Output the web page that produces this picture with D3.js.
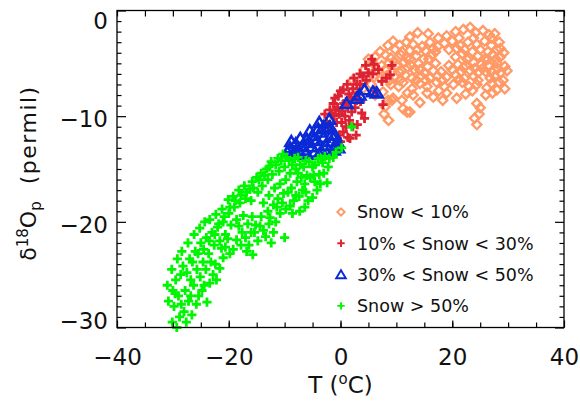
<!DOCTYPE html>
<html>
<head>
<meta charset="utf-8">
<script src="https://cdn.jsdelivr.net/npm/d3@7"></script>
<style>
	body { margin: 0; background: #fff; }
	text { font-family: "DejaVu Sans", "Liberation Sans", sans-serif; }
</style>
</head>
<body>
<script>
	var w = 580;
	var h = 405;

	// axis ranges and tick labels
	var xDomain = [-40, 40];
	var yDomain = [-30, 0];
	var xTicks = [-40, -20, 0, 20, 40];
	var yTicks = [-30, -20, -10, 0];

	var legendLabels = ["Snow < 10%", "10% < Snow < 30%", "30% < Snow < 50%", "Snow > 50%"];
	var colors = ["#ff9966", "#dd2233", "#0a2ad6", "#00f500"];

	// [T, d18O] pairs
	var snowLt10 = [
		[12.4,-2.5],[13.8,-2.1],[15.7,-2.2],[17.5,-2.6],[19.0,-2.4],[20.6,-2.0],[22.0,-1.8],[23.2,-1.6],[24.2,-2.1],[25.5,-1.9],[26.6,-2.3],[27.6,-2.2],[21.2,-2.6],[23.8,-2.6],
		[8.5,-3.3],[9.4,-2.9],[10.6,-3.3],[11.8,-3.0],[13.0,-3.2],[14.6,-3.4],[16.0,-3.0],[17.4,-3.4],[18.6,-3.1],[20.0,-2.9],[21.4,-3.3],[22.8,-3.0],[24.4,-3.2],[25.8,-2.9],[27.0,-3.3],[28.4,-3.0],
		[7.1,-3.9],[9.8,-3.7],[12.4,-3.8],[15.2,-3.8],[17.0,-3.9],[19.4,-3.7],[22.2,-3.7],[23.6,-3.9],[25.0,-3.7],[26.4,-3.9],[28.0,-3.7],
		[6.2,-4.4],[8.0,-4.2],[9.0,-4.5],[10.8,-4.2],[11.8,-4.5],[13.6,-4.3],[14.8,-4.6],[16.4,-4.2],[20.6,-4.4],[21.8,-4.1],[23.0,-4.5],[24.6,-4.3],[25.8,-4.6],[27.2,-4.2],[28.6,-4.4],[29.2,-4.0],
		[5.8,-5.0],[7.4,-5.2],[8.6,-5.0],[10.0,-5.2],[11.4,-4.9],[12.6,-5.2],[14.0,-5.0],[15.6,-5.3],[17.0,-5.0],[21.0,-5.1],[22.4,-5.2],[23.8,-4.9],[25.2,-5.1],[26.6,-5.3],[28.0,-5.0],[29.4,-5.3],[29.8,-5.7],
		[6.8,-5.7],[9.2,-5.8],[11.0,-5.7],[13.2,-5.6],[15.0,-5.9],[16.6,-5.7],[18.0,-5.8],[20.0,-5.6],[21.6,-5.8],[23.2,-5.7],[24.6,-5.9],[25.4,-5.5],[27.0,-5.8],[28.6,-5.9],
		[7.2,-6.4],[8.2,-6.2],[9.8,-6.3],[11.6,-6.1],[12.8,-6.4],[14.4,-6.2],[16.0,-6.4],[17.4,-6.2],[19.0,-6.3],[20.6,-6.1],[22.2,-6.4],[23.8,-6.2],[27.6,-6.2],[29.1,-6.6],
		[9.0,-7.0],[10.4,-7.2],[11.2,-6.8],[12.8,-7.4],[14.2,-6.9],[15.5,-7.2],[17.2,-6.8],[18.6,-7.2],[20.2,-7.0],[21.8,-6.8],[23.0,-7.2],[24.4,-7.0],[26.2,-7.3],[27.0,-6.9],[28.0,-7.5],[29.4,-7.4],
		[7.6,-7.7],[8.5,-8.5],[9.4,-8.3],[11.0,-8.5],[13.0,-8.0],[14.2,-8.7],[15.5,-7.8],[16.6,-8.2],[18.3,-8.5],[19.0,-7.8],[20.8,-8.3],[22.4,-7.9],[24.4,-8.8],[26.0,-8.0],
		[8.0,-9.1],[9.2,-8.5],[11.2,-9.3],[11.9,-9.6],[12.4,-9.6],[25.0,-9.2],[24.0,-10.2],[24.4,-10.8],[24.8,-9.8],[7.8,-9.8],[8.6,-10.4],
		[3.5,-6.5],[4.2,-5.6],[5.0,-4.6],[4.0,-7.4],[5.5,-7.0],[6.2,-8.0],[3.0,-7.8],[2.2,-6.6],[6.0,-6.3],[5.2,-5.4],
		[11.0,-3.9],[13.8,-3.7],[16.6,-3.6],[20.8,-3.6],[27.0,-2.6],[28.6,-3.6],[9.6,-4.8],[12.4,-4.6],[15.8,-4.6],[22.6,-4.6],[26.4,-4.6],[27.8,-4.6],
		[8.0,-5.6],[10.4,-5.8],[12.0,-5.4],[14.2,-5.6],[19.4,-5.2],[22.0,-5.4],[24.0,-5.5],[26.0,-5.8],[28.2,-5.5],
		[8.8,-6.6],[10.6,-6.6],[13.6,-6.6],[15.2,-6.6],[18.2,-6.6],[21.2,-6.5],[24.6,-6.6],[26.8,-6.4],[28.4,-6.8],
		[12.0,-7.8],[17.6,-7.6],[23.6,-7.6],[27.2,-7.8]
	];

	var snow10to30 = [
		[5.6,-4.6],[6.8,-5.6],[8.9,-6.1],[9.2,-5.2],[8.2,-6.4],[7.4,-6.7],[7.6,-8.9],[6.0,-5.1],[5.0,-5.9],[4.6,-6.6],[4.0,-6.2],[3.5,-7.0],[2.9,-7.0],
		[2.2,-7.4],[1.5,-7.9],[0.5,-7.5],[0.0,-7.6],[-0.4,-8.1],[-1.0,-8.3],[-1.3,-8.8],[-1.9,-9.4],[-1.6,-9.8],[-2.5,-10.5],[-2.2,-11.0],
		[1.3,-9.1],[2.9,-8.5],[3.8,-9.7],[4.3,-10.2],[2.0,-9.6],[0.8,-10.0],[0.2,-10.6],[-0.7,-10.6],[1.3,-12.0],[1.7,-12.1],[0.5,-11.5],
		[-0.2,-11.8],[2.2,-11.0],[3.0,-10.8],[1.0,-8.6],[-0.5,-9.2],[0.3,-9.5],[3.2,-7.8],[2.4,-6.4],[6.3,-7.6],[-3.0,-10.9],[1.8,-8.2],
		[-1.2,-10.0],[1.0,-11.0],
		[-1.5,-11.5],[-0.2,-9.8],[1.6,-10.4],[2.6,-9.2],[0.6,-8.8],[-0.9,-9.4],[2.8,-11.8],[0.0,-12.4],[3.5,-6.0],[4.5,-5.2],[5.8,-6.0],
		[1.2,-7.0],[3.6,-8.6],[-2.8,-9.8]
	];

	var snow30to50 = [
		[-9.5,-13.4],[-9.0,-13.0],[-8.5,-13.6],[-8.0,-12.6],[-7.5,-13.3],[-7.2,-12.1],[-6.8,-12.8],[-6.2,-13.5],[-6.0,-12.2],[-5.5,-11.4],
		[-5.2,-12.9],[-5.0,-11.8],[-4.6,-13.4],[-4.2,-12.3],[-3.8,-10.6],[-3.6,-11.5],[-3.4,-13.3],[-3.0,-12.0],[-2.6,-12.8],[-2.2,-11.2],
		[-1.9,-11.0],[-1.6,-12.4],[-1.2,-13.2],[-1.0,-11.8],[-0.6,-12.4],[-0.4,-13.0],[-2.0,-10.3],
		[-8.8,-12.4],[-7.8,-13.6],[-6.6,-13.2],[-5.6,-12.5],[-4.8,-12.2],[-4.0,-11.2],[-3.0,-11.0],[-2.4,-13.5],[-1.6,-11.8],[-0.8,-12.8],[-3.8,-13.6],
		[1.1,-8.8],[2.9,-8.3],[3.4,-8.0],[4.3,-7.5],[5.8,-7.7],[6.5,-7.8]
	];

	var snowGt50 = [
		[-31.0,-26.0],[-30.8,-27.5],
		[-30.2,-24.5],[-30.0,-26.5],[-29.8,-28.0],[-30.1,-29.5],[-29.5,-25.5],
		[-29.2,-23.5],[-29.0,-27.0],[-28.8,-29.0],[-29.3,-30.0],[-28.6,-25.0],
		[-28.4,-22.8],[-28.2,-24.2],[-27.8,-26.5],[-28.0,-28.5],[-27.6,-29.5],
		[-27.3,-22.0],[-27.0,-23.5],[-26.8,-25.5],[-27.2,-27.5],[-26.6,-28.8],
		[-26.2,-21.2],[-26.0,-22.8],[-25.7,-24.5],[-26.3,-26.0],[-25.8,-27.8],
		[-25.2,-20.6],[-25.0,-22.0],[-24.6,-23.8],[-25.1,-25.2],[-24.8,-26.5],
		[-24.3,-20.0],[-24.0,-21.5],[-23.6,-23.0],[-24.1,-24.5],[-23.9,-27.6],
		[-23.4,-19.8],[-23.0,-21.0],[-22.6,-22.2],[-23.2,-23.8],[-22.8,-25.0],
		[-22.3,-19.3],[-22.0,-20.5],[-21.6,-21.8],[-22.2,-25.5],[-21.6,-24.4],
		[-21.2,-18.8],[-21.0,-20.0],[-20.6,-21.2],[-21.3,-22.5],
		[-20.1,-17.9],[-20.0,-19.2],[-19.6,-20.3],[-20.2,-21.6],[-19.8,-23.0],
		[-19.2,-17.6],[-19.0,-18.6],[-18.6,-19.8],[-18.6,-21.7],
		[-18.2,-17.0],[-18.0,-18.2],[-17.6,-21.0],[-17.8,-22.2],
		[-17.2,-16.6],[-17.0,-17.8],[-16.6,-20.2],[-17.0,-21.5],[-16.8,-22.8],
		[-16.2,-16.9],[-15.6,-16.8],[-16.0,-18.0],[-15.8,-19.5],[-16.0,-21.0],[-15.7,-23.1],
		[-15.0,-15.8],[-14.8,-17.2],[-15.2,-20.3],[-14.8,-21.8],
		[-14.2,-15.4],[-14.0,-16.6],[-13.8,-18.2],[-14.2,-19.5],[-13.8,-20.8],
		[-13.2,-15.0],[-13.0,-16.0],[-12.8,-17.5],[-13.0,-19.0],[-12.8,-20.2],
		[-12.4,-14.3],[-12.2,-15.5],[-11.8,-16.8],[-12.0,-18.4],[-12.0,-21.0],
		[-11.2,-14.0],[-11.0,-15.2],[-10.8,-16.4],[-11.2,-17.8],[-10.8,-19.2],
		[-10.3,-13.6],[-10.0,-14.8],[-9.8,-16.0],[-10.2,-17.3],[-10.0,-21.5],
		[-9.2,-14.2],[-9.0,-15.4],[-8.8,-16.8],[-9.0,-18.5],
		[-8.2,-14.0],[-8.0,-15.0],[-7.8,-16.2],[-8.0,-17.5],
		[-7.2,-14.6],[-7.0,-15.8],[-7.3,-19.0],[-6.8,-17.0],
		[-6.2,-14.2],[-6.0,-15.6],[-5.8,-18.0],
		[-5.0,-14.8],[-5.0,-17.7],[-4.6,-16.2],
		[-4.0,-14.0],[-3.8,-15.5],
		[-3.2,-14.4],[-2.4,-16.3],[-2.8,-13.8],
		[-2.0,-14.0],[-1.3,-13.9],[-0.8,-13.4],[0.2,-13.0],[2.0,-11.0],
		[-29.6,-26.8],[-28.5,-27.8],[-27.5,-24.8],[-26.5,-23.8],[-25.5,-23.0],[-24.5,-22.6],[-23.5,-21.8],[-22.5,-21.2],[-21.8,-20.2],
		[-20.8,-19.5],[-19.8,-18.6],[-18.8,-18.0],[-17.8,-17.5],[-16.8,-17.2],[-15.8,-16.2],[-14.6,-16.0],[-13.6,-15.6],[-12.8,-14.8],
		[-11.6,-14.6],[-10.6,-14.2],[-9.6,-13.9],[-8.6,-14.6],[-7.6,-13.9],[-6.6,-14.8],[-5.6,-14.3],[-4.5,-14.6],[-3.5,-14.0],
		[-26.8,-27.0],[-25.4,-27.0],[-24.4,-26.0],[-23.4,-25.8],[-22.4,-24.0],[-21.0,-23.4],[-20.6,-22.4],[-19.2,-22.6],[-18.2,-20.4],
		[-17.4,-19.4],[-16.4,-22.2],[-15.4,-21.0],[-14.4,-20.4],[-13.4,-21.4],[-12.6,-19.6],[-11.6,-20.0],[-11.4,-18.6],[-10.4,-18.2],
		[-9.4,-17.2],[-8.4,-18.0],[-7.4,-17.6],[-6.4,-16.4],[-5.4,-15.8],[-4.2,-17.0],[-3.0,-15.4],[-2.2,-14.8],[-6.4,-18.6],[-8.6,-19.2],
		[-7.6,-15.4],[-6.2,-17.2],[-4.8,-15.6],[-3.6,-16.4],[-9.8,-18.8],[-12.4,-22.0]
	];

	var groups = [snowLt10, snow10to30, snow30to50, snowGt50];

	// marker shapes (open diamond, plus, open triangle, plus)
	var shapes = [
		"M0,-4.6L4.6,0L0,4.6L-4.6,0Z",
		"M-4.6,0H4.6M0,-4.6V4.6",
		"M0,-5.5L6,4.5L-6,4.5Z",
		"M-4.6,0H4.6M0,-4.6V4.6"
	];
	var widths = [2.3, 2.8, 2.5, 2.8];

	var svg = d3.select("body")
		.append("svg")
		.attr("width", w)
		.attr("height", h);

	svg.append("rect").attr("width", w).attr("height", h).attr("fill", "#fff");

	var xScale = d3.scaleLinear().domain(xDomain).range([117, 564]);
	var yScale = d3.scaleLinear().domain(yDomain).range([327.5, 10.5]);

	// points
	groups.forEach(function (data, i) {
		svg.append("g")
			.selectAll("path")
			.data(data)
			.enter()
			.append("path")
			.attr("transform", function (d) {
				return "translate(" + xScale(d[0]) + "," + yScale(d[1]) + ")";
			})
			.attr("d", shapes[i])
			.attr("fill", "none")
			.attr("stroke", colors[i])
			.attr("stroke-width", widths[i]);
	});

	function styleAxis(g) {
		g.select(".domain").remove();
		g.selectAll(".tick line").attr("stroke", "#000").attr("stroke-width", 1.2);
		g.selectAll(".tick text").attr("fill", "#111");
		g.attr("font-size", 23).attr("font-family", "DejaVu Sans, sans-serif");
	}

	var xMinor = d3.range(-35, 40, 5);
	var yMinor = d3.range(-29, 0, 1).filter(function (v) { return v % 10 != 0; });

	// bottom
	svg.append("g")
		.attr("transform", "translate(0,327.5)")
		.call(d3.axisBottom(xScale).tickValues(xTicks).tickSize(-7).tickPadding(21).tickFormat(d3.format("d")))
		.call(styleAxis);
	svg.append("g")
		.attr("transform", "translate(0,327.5)")
		.call(d3.axisBottom(xScale).tickValues(xMinor).tickSize(-5).tickFormat(""))
		.call(styleAxis);
	// top
	svg.append("g")
		.attr("transform", "translate(0,10.5)")
		.call(d3.axisTop(xScale).tickValues(xTicks.concat(xMinor)).tickSize(-6).tickFormat(""))
		.call(styleAxis);
	// left
	svg.append("g")
		.attr("transform", "translate(117,0)")
		.call(d3.axisLeft(yScale).tickValues(yTicks).tickSize(-9).tickPadding(9).tickFormat(d3.format("d")))
		.call(styleAxis)
		.selectAll(".tick text")
		.attr("dy", function (d) {
			if (d == 0) return "0.8em";
			if (d == -30) return "0.04em";
			return "0.47em";
		});
	svg.append("g")
		.attr("transform", "translate(117,0)")
		.call(d3.axisLeft(yScale).tickValues(yMinor).tickSize(-4.5).tickFormat(""))
		.call(styleAxis);
	// right
	svg.append("g")
		.attr("transform", "translate(564,0)")
		.call(d3.axisRight(yScale).tickValues(yTicks).tickSize(-9).tickFormat(""))
		.call(styleAxis);
	svg.append("g")
		.attr("transform", "translate(564,0)")
		.call(d3.axisRight(yScale).tickValues(yMinor).tickSize(-4.5).tickFormat(""))
		.call(styleAxis);

	// frame
	svg.append("rect")
		.attr("x", 117).attr("y", 10.5)
		.attr("width", 447).attr("height", 317)
		.attr("fill", "none")
		.attr("stroke", "#000")
		.attr("stroke-width", 1.3);

	// axis titles
	var xTitle = svg.append("text")
		.attr("x", 340.5).attr("y", 393)
		.attr("text-anchor", "middle")
		.attr("font-size", 23)
		.attr("fill", "#111");
	xTitle.append("tspan").text("T (");
	xTitle.append("tspan").attr("font-size", 15).attr("dy", -9).text("o");
	xTitle.append("tspan").attr("dy", 9).text("C)");

	var yTitle = svg.append("text")
		.attr("transform", "translate(36,173) rotate(-90)")
		.attr("text-anchor", "middle")
		.attr("font-size", 22)
		.attr("fill", "#111");
	yTitle.append("tspan").text("δ");
	yTitle.append("tspan").attr("font-size", 15).attr("dy", -8).text("18");
	yTitle.append("tspan").attr("dy", 8).text("O");
	yTitle.append("tspan").attr("font-size", 15).attr("dy", 5).text("p");
	yTitle.append("tspan").attr("dy", -5).attr("letter-spacing", 1.5).text("\u00a0\u00a0(permil)");

	// legend
	var legend = svg.append("g");
	legendLabels.forEach(function (label, i) {
		var ly = 212 + i * 31.3;
		legend.append("path")
			.attr("transform", "translate(341," + ly + ") scale(0.8)")
			.attr("d", shapes[i])
			.attr("fill", "none")
			.attr("stroke", colors[i])
			.attr("stroke-width", 2.4);
		legend.append("text")
			.attr("x", 357)
			.attr("y", ly + 6.4)
			.attr("font-size", 17.5)
			.attr("fill", "#111")
			.text(label);
	});
</script>
</body>
</html>
